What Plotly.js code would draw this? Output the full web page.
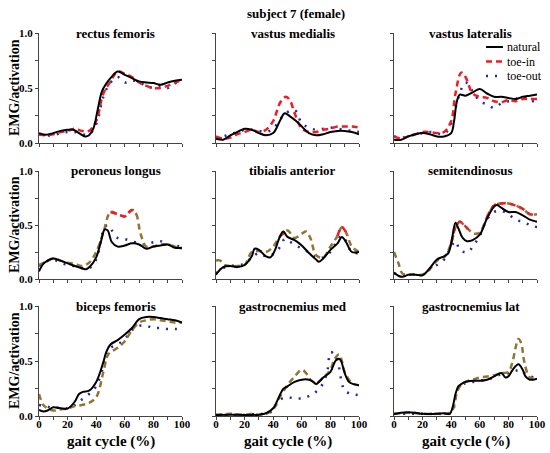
<!DOCTYPE html>
<html>
<head>
<meta charset="utf-8">
<script src="https://cdn.plot.ly/plotly-3.0.1.min.js"></script>
<style>
  body { margin: 0; background: #fff; }
  #chart { width: 550px; height: 453px; }
</style>
</head>
<body>
<div id="chart"></div>
<script>
// muscle names, one panel each (row by row)
var muscles = ['rectus femoris', 'vastus medialis', 'vastus lateralis',
               'peroneus longus', 'tibialis anterior', 'semitendinosus',
               'biceps femoris', 'gastrocnemius med', 'gastrocnemius lat'];

var gaitTicks = [0, 10, 20, 30, 40, 50, 60, 70, 80, 90, 100];
var gaitLabels = ['0', '', '20', '', '40', '', '60', '', '80', '', '100'];
var actTicks = [0, 0.25, 0.5, 0.75, 1];
var actLabels = ['0.0', '', '0.5', '', '1.0'];
var conditions = ['natural', 'toe-in', 'toe-out'];

// [gait cycle %, activation]
var rfNatural = [[0,.09],[5,.075],[10,.09],[15,.11],[20,.12],[24,.12],[28,.09],[32,.06],[35,.07],[38,.13],[41,.3],[44,.47],[47,.54],[50,.59],[55,.65],[60,.62],[65,.59],[70,.56],[75,.55],[80,.545],[85,.53],[90,.55],[95,.565],[100,.575]];
var rfToeIn = [[0,.08],[5,.07],[10,.08],[15,.1],[20,.11],[25,.13],[30,.11],[35,.11],[40,.2],[45,.45],[50,.56],[55,.65],[60,.63],[65,.6],[70,.55],[75,.52],[80,.5],[85,.5],[90,.52],[95,.55],[100,.57]];
var rfToeOut = [[0,.08],[5,.07],[10,.07],[15,.09],[20,.1],[25,.1],[30,.08],[35,.08],[40,.17],[45,.42],[50,.55],[55,.6],[60,.55],[65,.57],[70,.55],[75,.52],[80,.5],[85,.52],[90,.5],[95,.54],[100,.56]];

var vmNatural = [[0,.04],[5,.03],[10,.07],[15,.1],[20,.13],[25,.12],[30,.09],[35,.07],[40,.09],[45,.21],[48,.27],[52,.24],[56,.2],[60,.15],[65,.09],[70,.07],[75,.08],[80,.1],[85,.11],[90,.11],[95,.1],[100,.08]];
var vmToeIn = [[0,.06],[5,.04],[10,.05],[15,.08],[20,.1],[25,.12],[30,.1],[35,.12],[40,.2],[45,.37],[49,.42],[52,.38],[55,.27],[60,.13],[65,.1],[70,.1],[75,.12],[80,.13],[85,.15],[90,.15],[95,.15],[100,.14]];
var vmToeOut = [[0,.04],[5,.06],[10,.08],[15,.1],[20,.12],[25,.12],[30,.11],[35,.1],[40,.13],[45,.22],[50,.28],[55,.3],[60,.18],[65,.14],[70,.12],[75,.13],[80,.14],[85,.13],[90,.12],[95,.11],[100,.1]];

var vlNatural = [[0,.03],[5,.03],[10,.06],[15,.08],[20,.09],[25,.08],[30,.06],[35,.06],[40,.09],[42,.2],[44,.38],[46,.44],[50,.43],[55,.46],[60,.49],[65,.45],[70,.42],[75,.42],[80,.41],[85,.4],[90,.42],[95,.43],[100,.44]];
var vlToeIn = [[0,.06],[5,.04],[10,.06],[15,.08],[20,.1],[25,.1],[30,.09],[35,.1],[40,.2],[43,.45],[47,.64],[50,.6],[55,.45],[60,.42],[65,.41],[70,.38],[75,.37],[80,.39],[85,.38],[90,.4],[95,.4],[100,.4]];
var vlToeOut = [[0,.06],[5,.05],[10,.06],[15,.08],[20,.09],[25,.1],[30,.09],[35,.08],[40,.18],[45,.41],[50,.55],[55,.47],[60,.38],[65,.35],[70,.32],[75,.36],[80,.38],[85,.4],[90,.42],[95,.38],[100,.39]];

var plNatural = [[0,.07],[3,.14],[6,.17],[10,.19],[15,.17],[20,.145],[25,.12],[30,.1],[33,.09],[36,.12],[40,.2],[43,.33],[46,.46],[48,.45],[51,.34],[55,.3],[60,.31],[65,.33],[70,.32],[75,.28],[80,.3],[85,.31],[90,.32],[95,.29],[100,.29]];
var plToeIn = [[0,.13],[5,.16],[10,.19],[15,.17],[20,.15],[25,.14],[30,.12],[35,.15],[40,.25],[45,.43],[50,.62],[55,.6],[60,.58],[65,.64],[68,.6],[71,.42],[75,.3],[80,.3],[85,.32],[90,.32],[95,.3],[100,.28]];
var plToeOut = [[0,.12],[5,.16],[10,.18],[15,.15],[20,.13],[25,.12],[30,.1],[35,.1],[40,.18],[45,.45],[48,.5],[51,.45],[55,.38],[60,.37],[65,.35],[70,.33],[75,.32],[80,.34],[85,.35],[90,.32],[95,.31],[100,.3]];

var taNatural = [[0,.04],[5,.11],[10,.12],[15,.11],[20,.13],[25,.21],[27,.28],[30,.27],[35,.21],[38,.2],[41,.26],[44,.37],[47,.44],[50,.39],[55,.36],[60,.31],[65,.24],[70,.18],[72,.16],[75,.19],[80,.27],[85,.33],[88,.39],[91,.34],[95,.25],[100,.25]];
var taToeIn = [[0,.17],[3,.17],[6,.13],[10,.12],[15,.12],[20,.13],[25,.25],[30,.26],[35,.25],[40,.3],[45,.4],[50,.45],[55,.38],[60,.42],[63,.44],[66,.38],[70,.22],[75,.2],[80,.3],[85,.4],[88,.48],[91,.43],[95,.3],[100,.25]];
var taToeOut = [[0,.05],[5,.1],[10,.12],[15,.13],[20,.14],[25,.2],[30,.24],[35,.21],[40,.23],[45,.3],[48,.37],[51,.35],[55,.32],[60,.28],[65,.25],[70,.2],[75,.2],[80,.25],[85,.36],[88,.4],[91,.35],[95,.25],[100,.24]];

var stNatural = [[0,.06],[3,.03],[6,.02],[10,.04],[15,.04],[20,.035],[25,.1],[30,.18],[35,.21],[38,.24],[40,.33],[43,.52],[45,.47],[48,.38],[51,.35],[55,.36],[60,.41],[65,.56],[70,.67],[72,.685],[75,.66],[80,.62],[85,.62],[90,.59],[95,.55],[100,.53]];
var stToeIn = [[0,.25],[3,.15],[6,.05],[10,.04],[15,.04],[20,.04],[25,.09],[30,.17],[35,.2],[40,.33],[43,.48],[46,.53],[49,.5],[52,.46],[56,.42],[60,.43],[65,.57],[70,.68],[75,.7],[80,.7],[85,.68],[90,.65],[95,.6],[100,.6]];
var stToeOut = [[0,.05],[5,.04],[10,.04],[15,.04],[20,.04],[25,.09],[30,.13],[35,.18],[40,.3],[43,.35],[46,.27],[49,.25],[52,.25],[55,.3],[60,.4],[65,.55],[70,.62],[75,.63],[80,.6],[85,.55],[90,.53],[95,.5],[100,.48]];

var bfNatural = [[0,.055],[3,.04],[6,.05],[10,.08],[15,.07],[20,.067],[25,.13],[28,.2],[31,.22],[35,.23],[40,.31],[45,.49],[47,.58],[50,.65],[55,.69],[60,.74],[65,.8],[70,.88],[75,.9],[80,.9],[85,.89],[90,.88],[95,.87],[100,.85]];
var bfToeIn = [[0,.2],[3,.1],[6,.07],[10,.05],[15,.06],[20,.07],[25,.09],[30,.1],[35,.12],[40,.17],[45,.4],[48,.55],[50,.58],[55,.62],[60,.68],[65,.78],[70,.85],[75,.87],[80,.88],[85,.87],[90,.86],[95,.85],[100,.85]];
var bfToeOut = [[0,.1],[5,.09],[10,.07],[15,.08],[20,.07],[25,.1],[30,.15],[35,.2],[40,.27],[45,.45],[48,.58],[50,.62],[55,.65],[60,.7],[65,.78],[70,.82],[75,.82],[80,.8],[85,.8],[90,.79],[95,.79],[100,.79]];

var gmNatural = [[0,.01],[10,.012],[20,.01],[30,.012],[35,.025],[40,.07],[42,.115],[45,.2],[47,.245],[50,.27],[55,.31],[60,.33],[65,.33],[68,.31],[70,.29],[72,.31],[75,.35],[80,.4],[83,.49],[85,.52],[87,.51],[90,.39],[93,.31],[96,.29],[100,.28]];
var gmToeIn = [[0,.01],[10,.02],[20,.01],[25,.02],[30,.01],[35,.02],[40,.06],[45,.18],[50,.28],[55,.36],[60,.42],[63,.39],[66,.33],[70,.3],[75,.35],[80,.42],[83,.52],[86,.56],[88,.5],[90,.4],[95,.3],[100,.28]];
var gmToeOut = [[0,.01],[10,.01],[20,.01],[30,.02],[35,.02],[40,.05],[42,.1],[45,.15],[50,.17],[55,.16],[60,.16],[65,.18],[70,.22],[75,.3],[78,.42],[80,.58],[82,.57],[85,.5],[88,.3],[90,.23],[95,.2],[100,.19]];

var glNatural = [[0,.015],[5,.03],[10,.035],[15,.03],[20,.02],[30,.02],[35,.025],[39,.02],[41,.08],[43,.2],[45,.27],[47,.29],[50,.31],[55,.32],[60,.32],[65,.33],[70,.36],[75,.39],[78,.35],[80,.36],[83,.42],[87,.47],[90,.42],[92,.36],[95,.33],[100,.34]];
var glToeIn = [[0,.02],[10,.03],[20,.02],[30,.02],[40,.04],[45,.25],[50,.31],[55,.33],[60,.35],[65,.36],[70,.37],[75,.39],[80,.4],[83,.5],[85,.62],[87,.7],[89,.66],[91,.5],[95,.35],[100,.34]];
var glToeOut = [[0,.02],[10,.02],[20,.02],[30,.02],[40,.03],[45,.25],[50,.3],[55,.31],[60,.32],[65,.33],[70,.35],[75,.38],[80,.39],[85,.41],[88,.42],[90,.4],[95,.36],[100,.35]];

var naturalSeries = [rfNatural, vmNatural, vlNatural, plNatural, taNatural, stNatural, bfNatural, gmNatural, glNatural];
var toeInSeries = [rfToeIn, vmToeIn, vlToeIn, plToeIn, taToeIn, stToeIn, bfToeIn, gmToeIn, glToeIn];
var toeOutSeries = [rfToeOut, vmToeOut, vlToeOut, plToeOut, taToeOut, stToeOut, bfToeOut, gmToeOut, glToeOut];

// stretches of the toe-in curve that are drawn red, the rest is brown
var toeInRed = [[[0,100]], [[0,100]], [[0,100]], [[47,70]], [[45,53],[85,91]], [[40,53],[62,100]], [], [], []];

// panel geometry (pixels in a 550x453 figure)
var W = 550, H = 453;
var colX = [[39,182],[216,359],[394,537]];
var rowY = [[33,143],[171,279],[306,416]];

var serif = 'Liberation Serif';
var red = '#ee1c25', brown = '#927534', blue = '#1f2aa8';
var styles = {
  natural: {color: '#000', width: 2},
  toeIn: {color: red, width: 2.5, dash: '6px,4px'},
  toeOut: {color: blue, width: 2.5, dash: '2px,7px'},
};

function px(pts) { return pts.map(function (p) { return p[0]; }); }
function py(pts) { return pts.map(function (p) { return p[1]; }); }
function lineStyle(s, color) {
  return {color: color || s.color, width: s.width, dash: s.dash || 'solid', shape: 'spline'};
}

var traces = [];
var layout = {
  width: W, height: H,
  margin: {l: 0, r: 0, t: 0, b: 0},
  paper_bgcolor: '#fff', plot_bgcolor: '#fff',
  font: {family: serif, color: '#000'},
  showlegend: false,
  annotations: [],
  shapes: [],
};

for (var i = 0; i < 9; i++) {
  var r = Math.floor(i / 3), c = i % 3;
  var sfx = i === 0 ? '' : String(i + 1);
  var xa = 'x' + sfx, ya = 'y' + sfx;

  layout['xaxis' + sfx] = {
    domain: [colX[c][0] / W, colX[c][1] / W], anchor: ya,
    range: [0, 100], showgrid: false, zeroline: false,
    showline: true, linecolor: '#444', linewidth: 1,
    ticks: 'outside', ticklen: 3, tickcolor: '#444',
    tickvals: gaitTicks,
    ticktext: r === 2 ? gaitLabels : gaitTicks.map(function () { return ''; }),
    tickfont: {family: serif, size: 11, weight: 'bold'},
    ticklabelstandoff: -5,
    fixedrange: true,
  };
  layout['yaxis' + sfx] = {
    domain: [1 - rowY[r][1] / H, 1 - rowY[r][0] / H], anchor: xa,
    range: [0, 1], showgrid: false, zeroline: false,
    showline: true, linecolor: '#444', linewidth: 1,
    ticks: 'outside', ticklen: 3, tickcolor: '#444',
    tickvals: actTicks,
    ticktext: c === 0 ? actLabels : actTicks.map(function () { return ''; }),
    tickfont: {family: serif, size: 11, weight: 'bold'},
    fixedrange: true,
  };

  var inRedAll = toeInRed[i].length === 1 && toeInRed[i][0][0] === 0 && toeInRed[i][0][1] === 100;

  traces.push({
    x: px(toeOutSeries[i]), y: py(toeOutSeries[i]), xaxis: xa, yaxis: ya,
    mode: 'lines', name: 'toe-out', line: lineStyle(styles.toeOut),
  });
  traces.push({
    x: px(toeInSeries[i]), y: py(toeInSeries[i]), xaxis: xa, yaxis: ya,
    mode: 'lines', name: 'toe-in', line: lineStyle(styles.toeIn, inRedAll ? red : brown),
  });
  if (!inRedAll) {
    toeInRed[i].forEach(function (rg) {
      var seg = toeInSeries[i].filter(function (p) { return p[0] >= rg[0] && p[0] <= rg[1]; });
      traces.push({
        x: px(seg), y: py(seg), xaxis: xa, yaxis: ya,
        mode: 'lines', name: 'toe-in', line: lineStyle(styles.toeIn),
      });
    });
  }
  traces.push({
    x: px(naturalSeries[i]), y: py(naturalSeries[i]), xaxis: xa, yaxis: ya,
    mode: 'lines', name: 'natural', line: lineStyle(styles.natural),
  });

  // panel title
  layout.annotations.push({
    xref: 'paper', yref: 'paper', showarrow: false,
    x: ((colX[c][0] + colX[c][1]) / 2 + 5) / W, y: 1 - rowY[r][0] / H,
    xanchor: 'center', yanchor: 'middle', text: muscles[i],
    font: {family: serif, size: 13, weight: 'bold'},
  });
}

for (var k = 0; k < 3; k++) {
  layout.annotations.push({
    xref: 'paper', yref: 'paper', showarrow: false, textangle: -90,
    x: 14 / W, y: 1 - (rowY[k][0] + rowY[k][1]) / 2 / H,
    xanchor: 'center', yanchor: 'middle', text: 'EMG/activation',
    font: {family: serif, size: 14, weight: 'bold'},
  });
  layout.annotations.push({
    xref: 'paper', yref: 'paper', showarrow: false,
    x: (colX[k][0] + colX[k][1]) / 2 / W, y: 1 - 441 / H,
    xanchor: 'center', yanchor: 'middle', text: 'gait cycle (%)',
    font: {family: serif, size: 15, weight: 'bold'},
  });
}

// legend in the vastus lateralis panel
[styles.natural, styles.toeIn, styles.toeOut].forEach(function (s, j) {
  var ly = 1 - (47 + j * 14.5) / H;
  layout.shapes.push({
    type: 'line', xref: 'paper', yref: 'paper',
    x0: 486 / W, x1: 503 / W, y0: ly, y1: ly,
    line: {color: s.color, width: s.width, dash: s.dash || 'solid'},
  });
  layout.annotations.push({
    xref: 'paper', yref: 'paper', showarrow: false,
    x: 505 / W, y: ly, xanchor: 'left', yanchor: 'middle',
    text: conditions[j], font: {family: serif, size: 12},
  });
});

layout.annotations.push({
  xref: 'paper', yref: 'paper', showarrow: false,
  x: 296 / W, y: 1 - 13 / H, xanchor: 'center', yanchor: 'middle',
  text: 'subject 7 (female)', font: {family: serif, size: 13, weight: 'bold'},
});

Plotly.newPlot('chart', traces, layout, {displayModeBar: false, staticPlot: true});
</script>
</body>
</html>
